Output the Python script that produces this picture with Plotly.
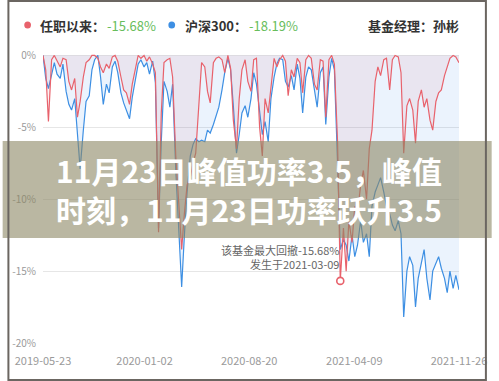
import numpy as np
import pandas as pd
import plotly.graph_objects as go

# ---------------- data ----------------
start_date = "2019-05-23"
end_date = "2021-11-26"
tick_dates = ["2019-05-23", "2020-01-02", "2020-08-20", "2021-04-09", "2021-11-26"]
y_ticks = [0, -5, -10, -15, -20]
y_tick_text = ["0%", "-5%", "-10%", "-15%", "-20%"]

fund_drawdown = [
    0, -1.0, -4.6, -0.3, 0, -0.4, -0.8, -0.2, -0.3, -1.8,
    -2.4, -1.6, -4.3, -3.2, -1.5, -0.5, -0.3, 0, 0, -0.2,
    -0.8, -1.2, -0.6, -0.9, -0.1, 0, -0.4, -1.5, -2.4, -2.6,
    -3.4, -2.0, -0.8, 0, -0.2, 0, -0.4, -0.1, -0.6, -1.2,
    -12.3, -4.0, -0.5, -0.3, -0.2, -1.5, -7.0, -10.0, -13.5, -11.0,
    -9.0, -8.5, -7.5, -6.8, -3.5, -0.5, -0.8, -2.5, -3.3, -0.5,
    -0.2, -0.1, -0.3, -1.2, 0, -0.9, -4.5, -6.5, -3.0, -1.0,
    -0.3, -1.8, -2.5, -0.3, -0.2, -5.0, -7.0, -3.0, -4.0, -2.0,
    -0.2, -0.8, -0.3, 0, -0.4, -2.8, -1.0, -1.5, -0.2, -0.5,
    -2.6, -0.3, 0, -0.2, -2.0, -2.4, -0.3, -0.4, -4.3, -0.3,
    0, -0.6, -6.0, -15.68, -12.0, -15.0, -11.5, -13.0, -10.5, -11.0,
    -9.0, -8.0, -10.0, -6.5, -5.2, -1.8, -0.8, -1.4, -0.3, -0.2,
    -2.4, -0.3, 0, -0.1, -1.2, -6.8, -3.5, -3.0, -3.8, -6.1,
    -3.2, -2.4, -3.6, -3.0, -4.5, -5.2, -3.2, -2.6, -2.4, -1.4,
    -0.8, -0.2, 0, -0.1, -0.5,
]
hs300_drawdown = [
    0, -1.6, -2.3, -1.2, -0.5, -1.3, -1.6, -0.6, -2.5, -3.4,
    -3.8, -3.0, -5.5, -7.9, -5.2, -3.2, -2.8, -1.0, -0.3, 0,
    -1.5, -3.4, -2.0, -2.6, -0.8, -0.4, -1.2, -2.6, -3.3, -3.8,
    -4.4, -2.9, -1.5, -0.6, -0.3, -0.8, -0.5, -1.3, -0.4, -1.9,
    -12.0, -6.0, -1.8, -2.5, -3.6, -2.0, -8.0, -12.0, -16.1, -12.5,
    -9.5, -7.0, -6.2, -5.8, -6.0, -5.9, -6.0, -5.2, -5.4, -4.8,
    -4.2, -3.6, -2.4, -1.2, -0.2, -1.0, -3.5, -6.8, -5.5, -4.0,
    -3.5, -4.3, -3.0, -1.2, -2.0, -3.8, -5.5, -4.6, -6.0, -3.0,
    -1.5, -0.6, -0.2, -0.3, -1.8, -2.2, -1.4, -2.4, -0.6, -1.6,
    -4.0, -1.5, -0.8, -1.0, -2.5, -3.6, -1.2, -0.8, -4.8, -1.5,
    -0.2, -1.0, -7.5, -13.5, -12.8, -13.2, -14.3, -12.5, -14.0, -13.2,
    -11.5, -13.0, -12.4, -14.0, -10.5, -9.5, -9.0, -8.5, -9.5, -10.5,
    -11.0, -11.8, -12.2, -11.5, -12.4, -18.19, -15.0, -14.0, -14.6, -17.5,
    -15.5, -14.5, -13.5, -15.5, -17.0, -15.0, -14.5, -14.0, -14.8, -15.5,
    -16.5, -15.0, -16.2, -15.3, -16.3,
]

dates = pd.date_range(start_date, end_date, periods=len(fund_drawdown)).normalize()

# ---------------- layout geometry ----------------
W, H = 499, 381
ML, MR, MT, MB = 37, 29, 54, 38
PW, PH = W - ML - MR, H - MT - MB


def px_x(x):
    return (x - ML) / PW


def px_y(y):
    return (H - MB - y) / PH


RED = "#e8626c"
BLUE = "#3d8fe3"
GREEN = "#68bd5c"
FONT = "Noto Sans CJK SC"

fig = go.Figure()
fig.add_trace(go.Scatter(
    x=dates, y=hs300_drawdown, mode="lines",
    line=dict(color=BLUE, width=1.2),
    fill="tozeroy", fillcolor="rgba(70,150,235,0.11)",
    hoverinfo="skip",
))
fig.add_trace(go.Scatter(
    x=dates, y=fund_drawdown, mode="lines",
    line=dict(color=RED, width=1.2),
    fill="tozeroy", fillcolor="rgba(225,90,110,0.09)",
    hoverinfo="skip",
))

imin = int(np.argmin(fund_drawdown))
fund_min = fund_drawdown[imin]
hs_min = min(hs300_drawdown)
min_date = dates[imin]

fig.add_trace(go.Scatter(
    x=[min_date], y=[fund_min], mode="markers",
    marker=dict(size=7, color="white", line=dict(color=RED, width=1.6)),
    hoverinfo="skip",
))

annotations = [
    dict(x=min_date, y=fund_min, xref="x", yref="y",
         text=f"该基金最大回撤{fund_min:.2f}%<br>发生于{min_date.strftime('%Y-%m-%d')}",
         showarrow=False, xanchor="right", yanchor="bottom", align="right",
         yshift=7, xshift=1,
         font=dict(family=FONT, size=11, color="#666666")),
    # legend row
    dict(x=px_x(32), y=px_y(25), xref="paper", yref="paper", text="<b>任职以来：</b>",
         showarrow=False, xanchor="left", yanchor="middle",
         font=dict(family=FONT, size=13, color="#333333")),
    dict(x=px_x(102), y=px_y(25), xref="paper", yref="paper", text=f"{fund_min:.2f}%",
         showarrow=False, xanchor="left", yanchor="middle",
         font=dict(family=FONT, size=13, color=GREEN)),
    dict(x=px_x(183), y=px_y(25), xref="paper", yref="paper", text="<b>沪深300：</b>",
         showarrow=False, xanchor="left", yanchor="middle",
         font=dict(family=FONT, size=13, color="#333333")),
    dict(x=px_x(249), y=px_y(25), xref="paper", yref="paper", text=f"{hs_min:.2f}%",
         showarrow=False, xanchor="left", yanchor="middle",
         font=dict(family=FONT, size=13, color=GREEN)),
    dict(x=px_x(472), y=px_y(25), xref="paper", yref="paper", text="<b>基金经理：孙彬</b>",
         showarrow=False, xanchor="right", yanchor="middle",
         font=dict(family=FONT, size=13, color="#333333")),
    # overlay headline (two lines in one text)
    dict(x=px_x(251), y=px_y(189), xref="paper", yref="paper",
         text="<b>11月23日峰值功率3.5，峰值<br>时刻，11月23日功率跃升3.5</b>",
         showarrow=False, xanchor="center", yanchor="middle", align="center",
         font=dict(family=FONT, size=30, color="white")),
]

shapes = [
    # legend dots
    dict(type="circle", xref="paper", yref="paper",
         x0=px_x(17.5), x1=px_x(24.5), y0=px_y(28.5), y1=px_y(21.5),
         fillcolor=RED, line=dict(width=0)),
    dict(type="circle", xref="paper", yref="paper",
         x0=px_x(167.5), x1=px_x(174.5), y0=px_y(28.5), y1=px_y(21.5),
         fillcolor=BLUE, line=dict(width=0)),
    # translucent band
    dict(type="rect", xref="paper", yref="paper", layer="above",
         x0=px_x(-5), x1=px_x(W + 5), y0=px_y(238), y1=px_y(141),
         fillcolor="rgba(140,135,100,0.6)", line=dict(width=0)),
    # outer frame
    dict(type="rect", xref="paper", yref="paper", layer="above",
         x0=px_x(1), x1=px_x(W - 1), y0=px_y(H - 1), y1=px_y(1),
         fillcolor="rgba(0,0,0,0)", line=dict(color="#6b6661", width=2)),
]

fig.update_layout(
    width=W, height=H,
    margin=dict(l=ML, r=MR, t=MT, b=MB),
    paper_bgcolor="white", plot_bgcolor="white",
    showlegend=False, hovermode=False,
    font=dict(family=FONT),
    annotations=annotations, shapes=shapes,
    xaxis=dict(
        type="date", range=[start_date, end_date],
        tickvals=tick_dates, ticktext=tick_dates,
        showgrid=False, zeroline=False, showline=False,
        tickfont=dict(family=FONT, size=11, color="#9a9a9a"),
        ticks="", ticklabelstandoff=10,
    ),
    yaxis=dict(
        range=[-20, 0.1], tickvals=y_ticks, ticktext=y_tick_text,
        showgrid=True, gridcolor="#e6e6e6", gridwidth=1,
        zeroline=False, showline=False, ticks="",
        tickfont=dict(family=FONT, size=10, color="#9a9a9a"),
        ticklabelstandoff=6,
    ),
)

fig.write_html(
    "out.html",
    config={"displayModeBar": False, "staticPlot": True},
    post_script="document.body.style.margin='0';document.body.style.overflow='hidden';",
)
